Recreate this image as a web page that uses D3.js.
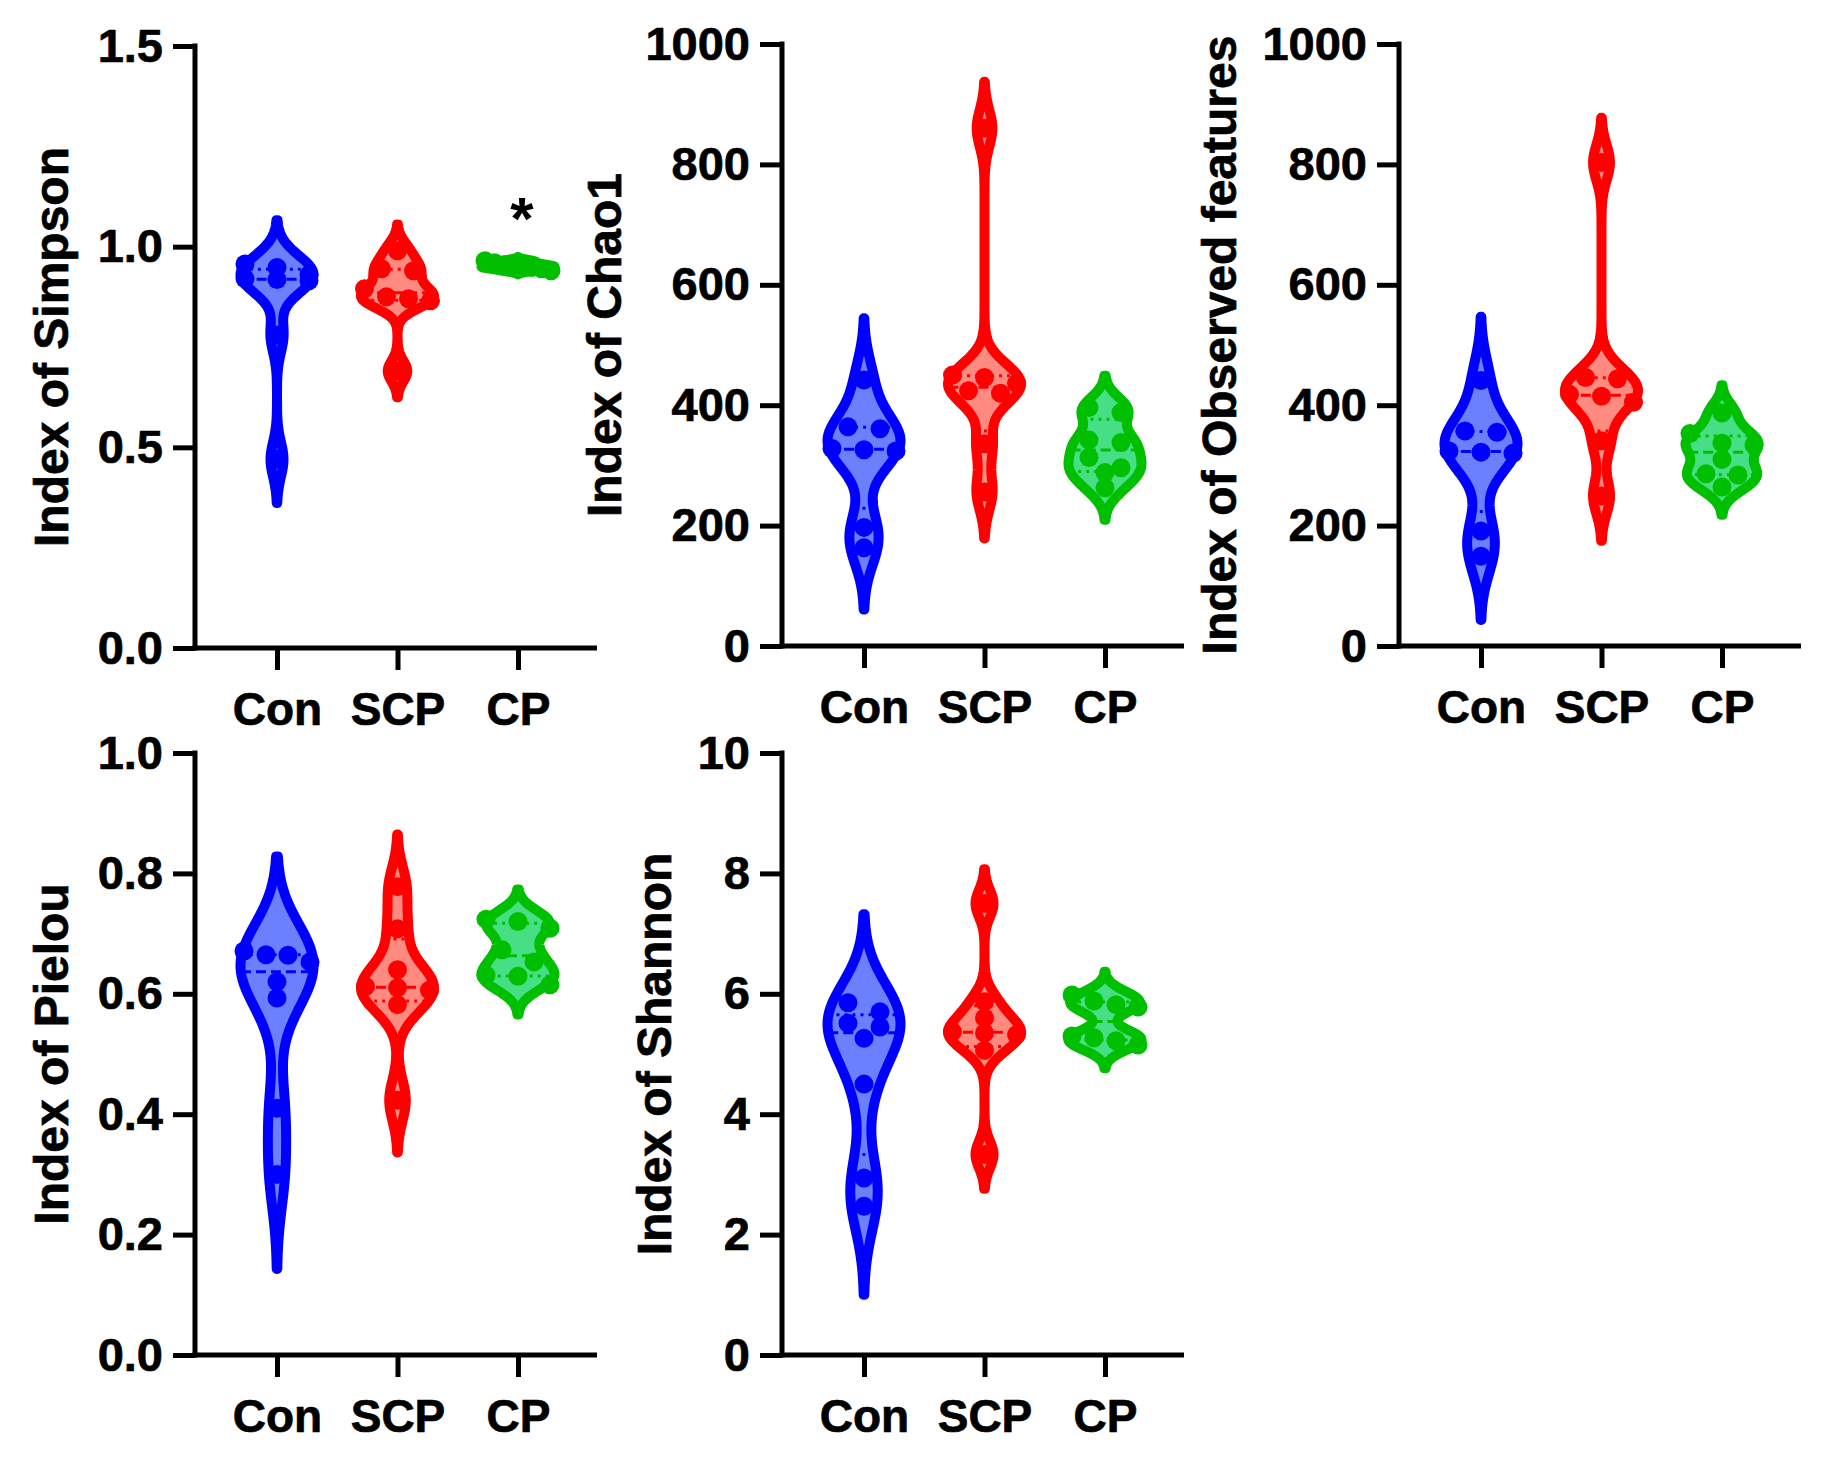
<!DOCTYPE html>
<html><head><meta charset="utf-8">
<script src="https://cdn.jsdelivr.net/npm/d3@7"></script>
<style>
html,body{margin:0;padding:0;background:#fff;}
svg{display:block;font-family:"Liberation Sans",Arial,sans-serif;font-weight:bold;}
</style></head><body>
<svg id="chart" width="1830" height="1457"></svg>
<script>
// ---------------- data ----------------
const groups = ["Con", "SCP", "CP"];

const simpsonCon = [0.957, 0.948, 0.93, 0.92, 0.918, 0.915, 0.78, 0.47];
const simpsonSCP = [0.99, 0.945, 0.94, 0.895, 0.875, 0.87, 0.865, 0.69];
const simpsonCP  = [0.965, 0.96, 0.955, 0.952, 0.95, 0.948, 0.945, 0.94];

const chao1Con = [442, 364, 361, 328, 326, 324, 197, 163];
const chao1SCP = [860, 450, 446, 436, 424, 420, 336, 256];
const chao1CP  = [396, 388, 342, 338, 313, 296, 288, 263];

const observedCon = [441, 357, 355, 324, 322, 320, 191, 149];
const observedSCP = [803, 446, 444, 418, 415, 405, 341, 249];
const observedCP  = [387, 353, 337, 334, 310, 286, 284, 264];

const pielouCon = [0.671, 0.665, 0.664, 0.653, 0.62, 0.593, 0.41, 0.30];
const pielouSCP = [0.778, 0.708, 0.64, 0.612, 0.61, 0.606, 0.582, 0.423];
const pielouCP  = [0.724, 0.72, 0.709, 0.673, 0.653, 0.631, 0.629, 0.615];

const shannonCon = [5.85, 5.70, 5.51, 5.45, 5.26, 4.50, 2.94, 2.47];
const shannonSCP = [7.5, 5.87, 5.6, 5.37, 5.35, 5.32, 5.06, 3.33];
const shannonCP  = [5.98, 5.88, 5.82, 5.78, 5.30, 5.27, 5.22, 5.15];

const simpsonTicks  = [0, 0.5, 1.0, 1.5];
const chao1Ticks    = [0, 200, 400, 600, 800, 1000];
const observedTicks = [0, 200, 400, 600, 800, 1000];
const pielouTicks   = [0, 0.2, 0.4, 0.6, 0.8, 1.0];
const shannonTicks  = [0, 2, 4, 6, 8, 10];

const simpsonMarks = ["", "", "*"];

const titles = ["Index of Simpson", "Index of Chao1", "Index of Observed features",
                "Index of Pielou", "Index of Shannon"];

// ---------------- style ----------------
const strokeColors = ["#0000ff", "#ff0000", "#00bf00"];
const fillColors   = ["#6b80ff", "#ff8a80", "#46df86"];

const panels = [
  {title: titles[0], series: [simpsonCon, simpsonSCP, simpsonCP], ticks: simpsonTicks, fmt: d3.format(".1f"),
   X: 195, top: 46, bottom: 648, titleOff: 127, marks: simpsonMarks},
  {title: titles[1], series: [chao1Con, chao1SCP, chao1CP], ticks: chao1Ticks, fmt: d3.format("d"),
   X: 782, top: 44, bottom: 646, titleOff: 161},
  {title: titles[2], series: [observedCon, observedSCP, observedCP], ticks: observedTicks, fmt: d3.format("d"),
   X: 1399, top: 44, bottom: 646, titleOff: 163},
  {title: titles[3], series: [pielouCon, pielouSCP, pielouCP], ticks: pielouTicks, fmt: d3.format(".1f"),
   X: 195, top: 753, bottom: 1355, titleOff: 127},
  {title: titles[4], series: [shannonCon, shannonSCP, shannonCP], ticks: shannonTicks, fmt: d3.format("d"),
   X: 782, top: 753, bottom: 1355, titleOff: 111}
];

const svg = d3.select("#chart");
const AXW = 5, TICK = 22, HALFW = 36.5, SW = 10, R = 9.5;

function prismQuantile(sorted, p) {
  const n = sorted.length;
  let pos = p * (n + 1) - 1;
  if (pos <= 0) return sorted[0];
  if (pos >= n - 1) return sorted[n - 1];
  const lo = Math.floor(pos), f = pos - lo;
  return sorted[lo] + f * (sorted[lo + 1] - sorted[lo]);
}

function styleText(sel, size) {
  sel.attr("font-size", size).attr("font-family", "Liberation Sans, Arial, sans-serif")
    .attr("font-weight", "bold").attr("fill", "#000").attr("stroke", "#000").attr("stroke-width", 0.7);
}

panels.forEach(p => {
  const g = svg.append("g");
  const y = d3.scaleLinear().domain([p.ticks[0], p.ticks[p.ticks.length - 1]]).range([p.bottom, p.top]);
  const x = d3.scalePoint().domain(groups).range([p.X + 82, p.X + 323]);
  const xEnd = p.X + 402;

  // violins
  p.series.forEach((vals, gi) => {
    const cx = x(groups[gi]);
    const s = vals.slice().sort(d3.ascending);
    const n = s.length;
    const q1 = prismQuantile(s, 0.25), med = prismQuantile(s, 0.5), q3 = prismQuantile(s, 0.75);
    const sd = d3.deviation(s);
    const spread = Math.min(sd, (q3 - q1) / 1.34);
    const bw = 0.45 * spread;
    const lo = s[0] - 2.5 * bw, hi = s[n - 1] + 2.5 * bw;
    const dens = v => d3.sum(s, d => Math.exp(-0.5 * ((v - d) / bw) ** 2));
    const N = 260;
    const grid = d3.range(N + 1).map(i => lo + (hi - lo) * i / N);
    const dv = grid.map(dens);
    const maxD = d3.max(dv);
    const pts = grid.map((v, i) => ({v, w: dv[i] / maxD * HALFW}));
    const hwAt = v => dens(v) / maxD * HALFW;

    const area = d3.area()
      .x0(d => cx - d.w).x1(d => cx + d.w).y(d => y(d.v))
      .curve(d3.curveLinear);
    g.append("path").attr("d", area(pts))
      .attr("fill", fillColors[gi]).attr("stroke", strokeColors[gi])
      .attr("stroke-width", SW).attr("stroke-linejoin", "round").attr("stroke-linecap", "round");

    // median & quartiles
    [[med, "10,5"], [q1, "3,5"], [q3, "3,5"]].forEach(([q, dash]) => {
      const w = hwAt(q);
      g.append("line").attr("x1", cx - w).attr("x2", cx + w).attr("y1", y(q)).attr("y2", y(q))
        .attr("stroke", strokeColors[gi]).attr("stroke-width", 3).attr("stroke-dasharray", dash);
    });

    // dots (rows of near-equal values spread horizontally)
    const desc = vals.slice().sort(d3.descending);
    const rows = [];
    desc.forEach(v => {
      const last = rows[rows.length - 1];
      if (last && Math.abs(y(v) - y(last[0])) < 13) last.push(v); else rows.push([v]);
    });
    rows.forEach(row => {
      const k = row.length;
      const sp = k > 1 ? Math.min(32, 66 / (k - 1)) : 0;
      row.forEach((v, i) => {
        g.append("circle").attr("cx", cx + (i - (k - 1) / 2) * sp).attr("cy", y(v)).attr("r", R)
          .attr("fill", strokeColors[gi]);
      });
    });

    if (p.marks && p.marks[gi]) {
      g.append("text").attr("x", cx + 4).attr("y", y(s[n - 1]) - 22)
        .attr("text-anchor", "middle").attr("font-size", 60).attr("fill", "#000").text(p.marks[gi]);
    }
  });

  // y axis
  const ya = d3.axisLeft(y).tickValues(p.ticks).tickFormat(p.fmt).tickSize(TICK).tickPadding(10).tickSizeOuter(0);
  const yg = g.append("g").attr("transform", `translate(${p.X},0)`).call(ya);
  yg.select(".domain").remove();
  yg.selectAll(".tick line").attr("stroke", "#000").attr("stroke-width", AXW);
  styleText(yg.selectAll(".tick text"), 47);
  g.append("line").attr("x1", p.X).attr("x2", p.X).attr("y1", p.top - AXW / 2).attr("y2", p.bottom + AXW / 2)
    .attr("stroke", "#000").attr("stroke-width", AXW);

  // x axis
  const xa = d3.axisBottom(x).tickSize(TICK).tickPadding(22).tickSizeOuter(0);
  const xg = g.append("g").attr("transform", `translate(0,${p.bottom})`).call(xa);
  xg.select(".domain").remove();
  xg.selectAll(".tick line").attr("stroke", "#000").attr("stroke-width", AXW);
  styleText(xg.selectAll(".tick text"), 46);
  g.append("line").attr("x1", p.X - AXW / 2).attr("x2", xEnd).attr("y1", p.bottom).attr("y2", p.bottom)
    .attr("stroke", "#000").attr("stroke-width", AXW);

  // title
  const t = g.append("text")
    .attr("transform", `translate(${p.X - p.titleOff},${(p.top + p.bottom) / 2}) rotate(-90)`)
    .attr("text-anchor", "middle").text(p.title);
  styleText(t, 48);
});
</script>
</body></html>
